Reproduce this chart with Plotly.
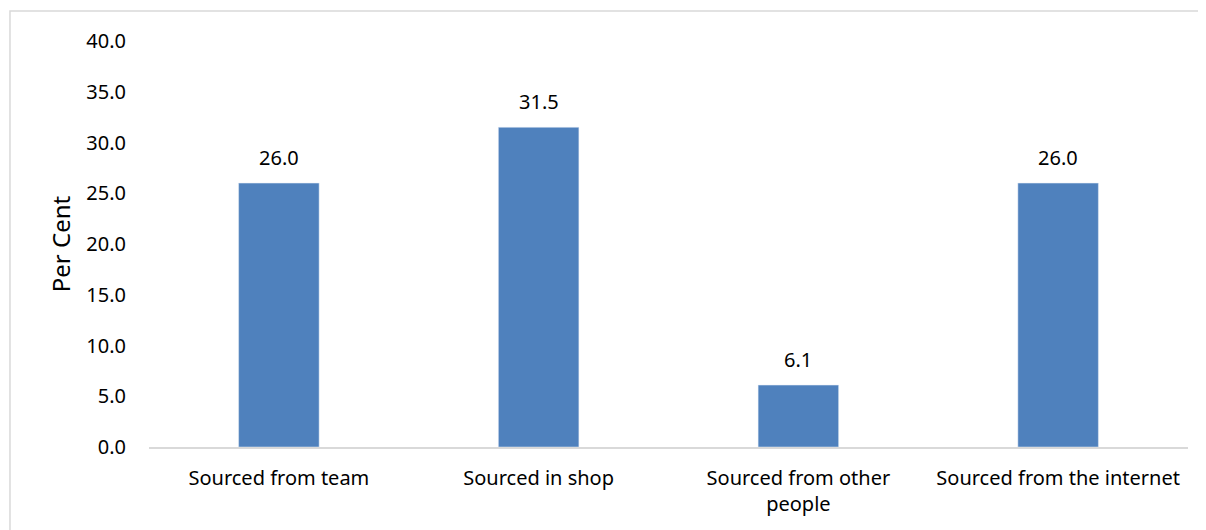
import plotly.graph_objects as go

# Source of items, per cent of respondents
categories = ["Sourced from team", "Sourced in shop",
              "Sourced from other<br>people", "Sourced from the internet"]
per_cent = [26.0, 31.5, 6.1, 26.0]

fig = go.Figure()
fig.add_trace(go.Bar(
    x=categories,
    y=per_cent,
    marker_color="#4F81BD",
    cliponaxis=False,
))

# value labels sit a little higher above the bars than plotly's own text
for cat, val in zip(categories, per_cent):
    fig.add_annotation(x=cat, y=val, text=f"{val:.1f}", showarrow=False,
                       yanchor="bottom", yshift=10,
                       font=dict(color="#000000", size=20))

# page body adds an 8px offset, so margins are trimmed to suit
fig.update_layout(
    width=1206,
    height=530,
    margin=dict(l=141, r=26, t=33, b=91),
    paper_bgcolor="white",
    plot_bgcolor="white",
    font=dict(family="Noto Sans", size=20, color="#000000"),
    bargap=0.69,
    showlegend=False,
    # thin frame round the chart, as in the original
    shapes=[dict(type="rect", xref="paper", yref="paper",
                 x0=-0.1338, x1=1.0135, y0=-0.3, y1=1.0739,
                 line=dict(color="#D9D9D9", width=1.5))],
)
fig.update_yaxes(
    range=[0, 40], dtick=5, tickformat=".1f",
    showgrid=False, zeroline=False, showline=False,
    ticklabelstandoff=22,
    title=dict(text="Per Cent", standoff=8),
)
fig.update_xaxes(
    showline=True, linecolor="#D9D9D9", linewidth=1.5,
    showgrid=False, ticks="", ticklabelstandoff=12,
)

fig.write_html("out.html")
